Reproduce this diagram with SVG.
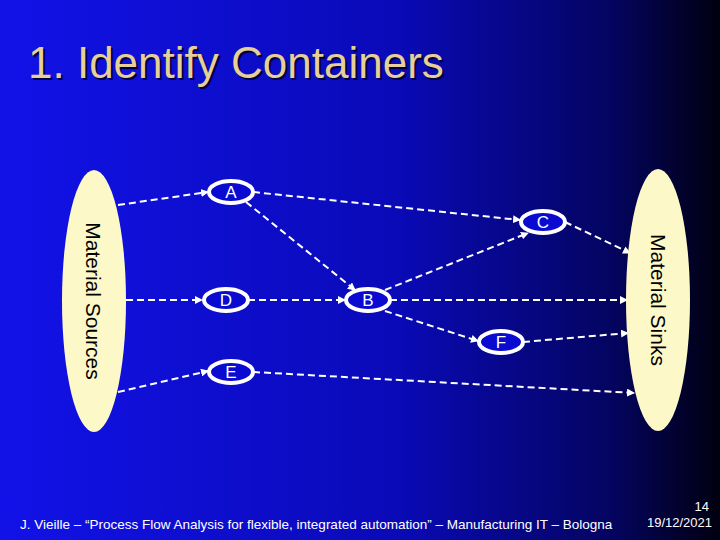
<svg xmlns="http://www.w3.org/2000/svg" width="720" height="540" viewBox="0 0 720 540">
<defs>
<linearGradient id="bg" x1="0" y1="0" x2="1" y2="0">
<stop offset="0" stop-color="#1212e8"/><stop offset="0.55" stop-color="#0a0ab8"/><stop offset="0.85" stop-color="#040460"/><stop offset="1" stop-color="#000010"/>
</linearGradient>
<marker id="ar" markerWidth="8" markerHeight="8" refX="7" refY="4" orient="auto" markerUnits="userSpaceOnUse"><path d="M0,0 L8,4 L0,8 z" fill="#fff"/></marker>
</defs>
<style>
.big{fill:#fdf8c8;stroke:none}
.n{fill:#0a0ad0;stroke:#fff;stroke-width:4}
.t{font-family:"Liberation Sans",Arial,sans-serif;fill:#fff;font-size:17px;text-anchor:middle}
.bt{font-family:"Liberation Sans",Arial,sans-serif;fill:#000;font-size:21px;text-anchor:middle}
.e{stroke:#fff;stroke-width:2;stroke-dasharray:7,4;fill:none;marker-end:url(#ar)}
</style>
<rect width="720" height="540" fill="url(#bg)"/>
<text x="28" y="78" font-family="'Liberation Sans',Arial,sans-serif" font-size="44" fill="#e6cf98" style="text-shadow:2px 2px 0 #000040">1. Identify Containers</text>
<g id="connectors">
<path class="e" d="M118,205 L208,192"/>
<path class="e" d="M253,192 L520,220"/>
<path class="e" d="M246,202 L355,290"/>
<path class="e" d="M126,300 L202,300"/>
<path class="e" d="M248,300 L345,300"/>
<path class="e" d="M118,392 L208,371"/>
<path class="e" d="M253,372 L634,393"/>
<path class="e" d="M385,290 L528,233"/>
<path class="e" d="M390,300 L627,300"/>
<path class="e" d="M385,311 L478,341"/>
<path class="e" d="M523,342 L628,333"/>
<path class="e" d="M565,222 L630,253"/>
</g>
<g id="sources"><ellipse class="big" cx="94" cy="301" rx="32" ry="131"/><text class="bt" transform="translate(86,301) rotate(90)">Material Sources</text></g>
<g id="sinks"><ellipse class="big" cx="658" cy="300" rx="32" ry="131"/><text class="bt" transform="translate(651,300) rotate(90)">Material Sinks</text></g>
<g id="A"><ellipse class="n" cx="231" cy="192" rx="22" ry="11"/><text class="t" x="231" y="198">A</text></g>
<g id="D"><ellipse class="n" cx="226" cy="300" rx="22" ry="11"/><text class="t" x="226" y="306">D</text></g>
<g id="B"><ellipse class="n" cx="368" cy="300" rx="22" ry="11"/><text class="t" x="368" y="306">B</text></g>
<g id="E"><ellipse class="n" cx="231" cy="372" rx="22" ry="11"/><text class="t" x="231" y="378">E</text></g>
<g id="C"><ellipse class="n" cx="543" cy="222" rx="22" ry="11"/><text class="t" x="543" y="228">C</text></g>
<g id="F"><ellipse class="n" cx="501" cy="342" rx="22" ry="11"/><text class="t" x="501" y="348">F</text></g>
<g font-family="'Liberation Sans',Arial,sans-serif" font-size="13" fill="#fff">
<text x="709" y="511" text-anchor="end">14</text>
<text x="20" y="529" font-size="13.5">J. Vieille – “Process Flow Analysis for flexible, integrated automation” – Manufacturing IT – Bologna</text>
<text x="712" y="527" text-anchor="end">19/12/2021</text>
</g>
</svg>
